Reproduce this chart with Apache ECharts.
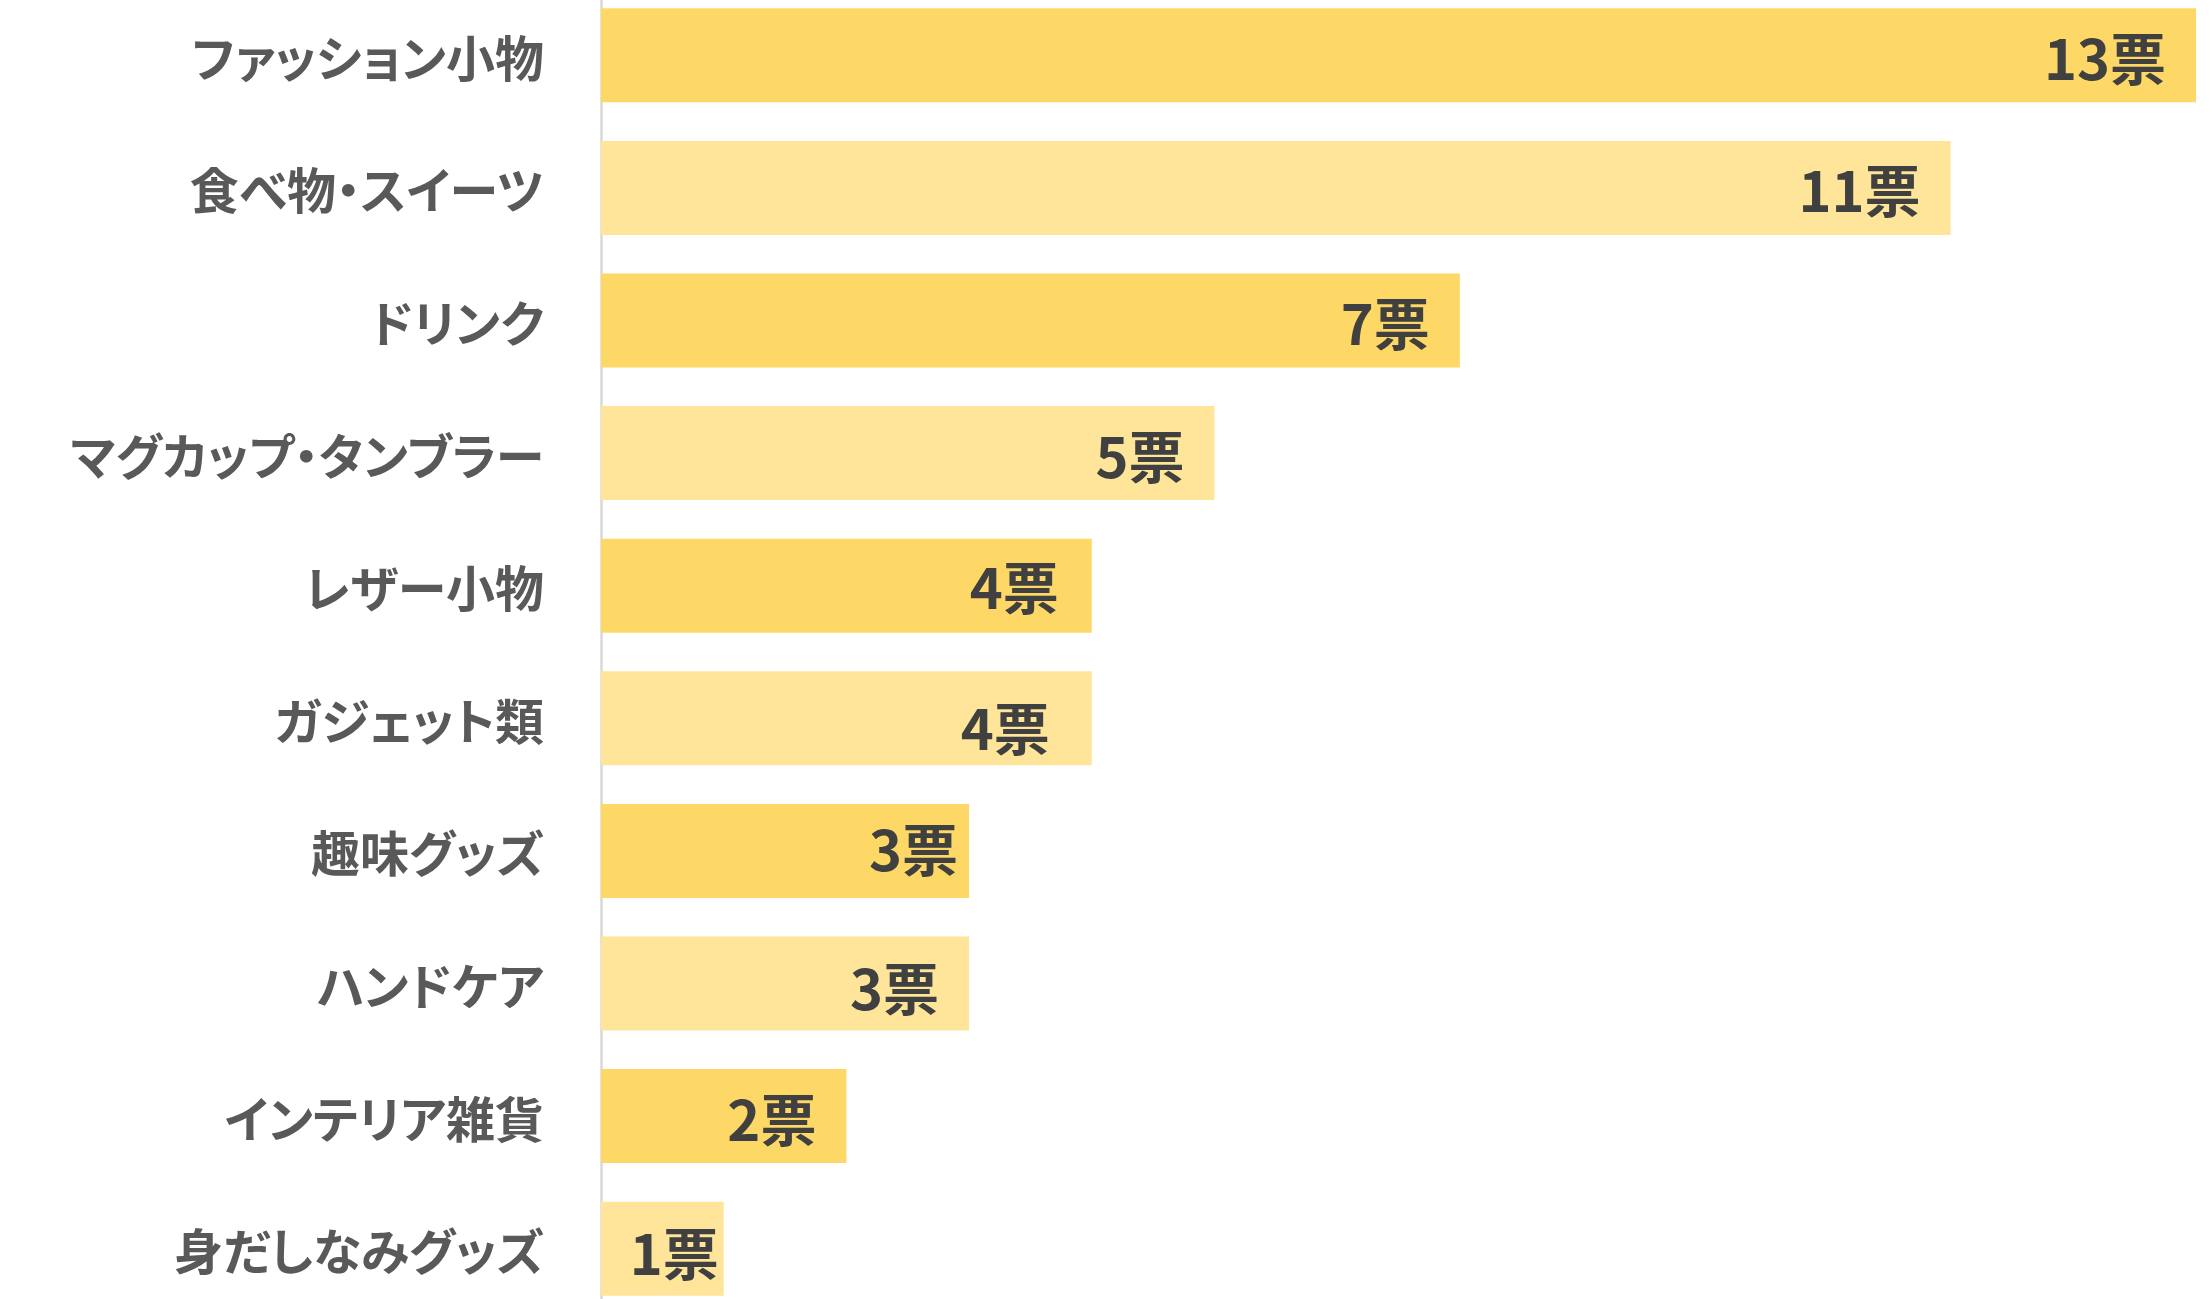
<!DOCTYPE html>
<html>
<head>
<meta charset="utf-8">
<script src="https://cdn.jsdelivr.net/npm/echarts@6/dist/echarts.min.js"></script>
<style>
html,body{margin:0;padding:0;background:#fff;overflow:hidden;width:2212px;height:1299px;}
#chart{position:absolute;left:0;top:-11px;width:2212px;height:1330px;}
#chart text{font-feature-settings:"palt" 1;}
</style>
</head>
<body>
<div id="chart"></div>
<script>
const categories = ['ファッション小物','食べ物・スイーツ','ドリンク','マグカップ・タンブラー','レザー小物','ガジェット類','趣味グッズ','ハンドケア','インテリア雑貨','身だしなみグッズ'];
const values = [13, 11, 7, 5, 4, 4, 3, 3, 2, 1];
const unit = '票';

// styling (not data)
const barColors = ['#FED866', '#FEE599'];
const labelNudge = [[0,0],[0,0],[0,0],[0,0],[-3,-1],[-12,7],[19,-4],[0,2],[0,0],[25,2]];

const chart = echarts.init(document.getElementById('chart'), null, {renderer: 'svg'});
chart.setOption({
  animation: false,
  backgroundColor: '#ffffff',
  grid: {left: 601, right: 16, top: 0, height: 1326, containLabel: false, outerBoundsMode: 'none'},
  xAxis: {
    type: 'value', min: 0, max: 13,
    show: false
  },
  yAxis: {
    type: 'category', data: categories, inverse: true,
    axisLine: {show: true, lineStyle: {color: '#D9D9D9', width: 2.5}},
    axisTick: {show: false},
    axisLabel: {
      color: '#595959', fontSize: 49, fontWeight: 'bold',
      fontFamily: '"Noto Sans CJK JP", sans-serif', margin: 57
    }
  },
  series: [{
    type: 'bar',
    barWidth: 94,
    data: values.map((v, i) => ({
      value: v,
      itemStyle: {color: barColors[i % 2]},
      label: {offset: labelNudge[i]}
    })),
    label: {
      show: true, position: 'insideRight', distance: 30,
      formatter: p => p.value + unit,
      color: '#404040', fontSize: 56, fontWeight: 'bold',
      fontFamily: '"Noto Sans CJK JP", sans-serif'
    }
  }]
});
</script>
</body>
</html>
